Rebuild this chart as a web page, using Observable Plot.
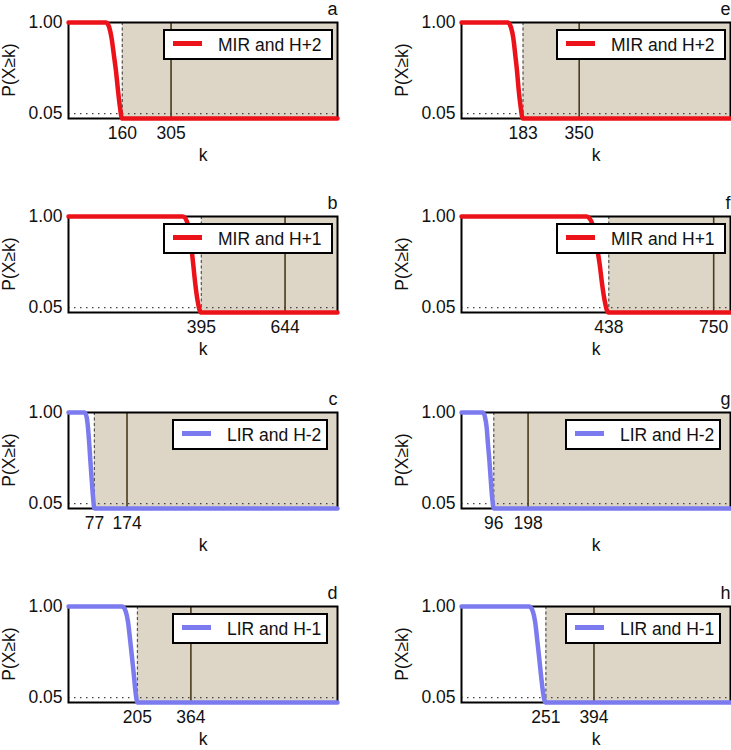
<!DOCTYPE html>
<html><head><meta charset="utf-8">
<script src="https://cdn.jsdelivr.net/npm/d3@7"></script>
<script src="https://cdn.jsdelivr.net/npm/@observablehq/plot@0.6"></script>
<style>
body{margin:0;background:#fff;}
#wrap{position:relative;width:731px;height:750px;background:#fff;font-family:"Liberation Sans",Arial,sans-serif;overflow:hidden;color:#111;}
.panel{position:absolute;}
.ylab{position:absolute;font-size:17.5px;transform:translate(-50%,-50%) rotate(-90deg);white-space:nowrap;}
.legend{position:absolute;height:31px;box-sizing:border-box;border:2px solid #000;background:#fff;font-size:17.5px;}
.legend .sw{position:absolute;left:8px;top:10px;width:29px;height:4.5px;}
.legend .tx{position:absolute;left:53px;top:3.5px;line-height:20px;white-space:nowrap;}
</style></head><body><div id="wrap"></div>
<script>
// ---- data ----
const panelLetters = ["a", "b", "c", "d", "e", "f", "g", "h"];
const seriesLabels = ["MIR and H+2", "MIR and H+1", "LIR and H-2", "LIR and H-1",
                      "MIR and H+2", "MIR and H+1", "LIR and H-2", "LIR and H-1"];
const thresholdK = [160, 395, 77, 205, 183, 438, 96, 251];
const markerK = [305, 644, 174, 364, 350, 750, 198, 394];
const xMax = 800;
const yTicks = [0.05, 1.00];
const curveK = [
  [0, 112, 121, 128, 135, 141, 147, 153, 159, 800],
  [0, 340, 352, 360, 366, 371, 377, 384, 394, 800],
  [0, 48, 54, 58, 62, 65, 69, 73, 77, 800],
  [0, 160, 170, 177, 183, 188, 194, 199, 205, 800],
  [0, 138, 147, 154, 160, 165, 170, 176, 182, 800],
  [0, 372, 386, 396, 404, 411, 418, 426, 436, 800],
  [0, 64, 70, 75, 79, 83, 87, 91, 96, 800],
  [0, 202, 212, 219, 225, 230, 236, 242, 249, 800]
];
const curveP = [
  [1, 1, 0.95, 0.84, 0.66, 0.5, 0.3, 0.12, 0, 0],
  [1, 1, 0.95, 0.84, 0.66, 0.5, 0.3, 0.12, 0, 0],
  [1, 1, 0.95, 0.84, 0.66, 0.5, 0.3, 0.12, 0, 0],
  [1, 1, 0.95, 0.84, 0.66, 0.5, 0.3, 0.12, 0, 0],
  [1, 1, 0.95, 0.84, 0.66, 0.5, 0.3, 0.12, 0, 0],
  [1, 1, 0.95, 0.84, 0.66, 0.5, 0.3, 0.12, 0, 0],
  [1, 1, 0.95, 0.84, 0.66, 0.5, 0.3, 0.12, 0, 0],
  [1, 1, 0.95, 0.84, 0.66, 0.5, 0.3, 0.12, 0, 0]
];

// ---- style / layout ----
const colLeft = [0, 393];
const rowTop = [22, 216, 412, 606];
const frameW = 269, frameH = 96, mLeft = 68, mTop = 20, mBottom = 44;
const colorOf = lab => lab.startsWith("MIR") ? "#ec1219" : "#7b7bef";
const shadeColor = "#ddd5c6";
const fontCSS = '"Liberation Sans", Arial, sans-serif';

const wrap = document.getElementById("wrap");

panelLetters.forEach((letter, i) => {
  const col = i < 4 ? 0 : 1;
  const row = i % 4;
  const left = colLeft[col];
  const top = rowTop[row];
  const mRight = col === 0 ? 4 : 1;
  const width = mLeft + frameW + mRight;
  const height = mTop + frameH + mBottom;
  const curve = curveK[i].map((k, j) => ({k, p: curveP[i][j]}));
  const color = colorOf(seriesLabels[i]);

  const chart = Plot.plot({
    width, height,
    marginLeft: mLeft, marginRight: mRight, marginTop: mTop, marginBottom: mBottom,
    style: {fontFamily: fontCSS, fontSize: "17.5px", background: "transparent", overflow: "visible", color: "#111"},
    x: {domain: [0, xMax], ticks: [thresholdK[i], markerK[i]], tickFormat: d => String(d), tickSize: 0, tickPadding: 8, label: null},
    y: {domain: [0, 1], ticks: yTicks, tickFormat: d => d.toFixed(2), tickSize: 0, tickPadding: 6, label: null},
    marks: [
      Plot.rect([{x1: thresholdK[i], x2: xMax}], {x1: "x1", x2: "x2", y1: 0, y2: 1, fill: shadeColor}),
      Plot.ruleY([0.05], {stroke: "#444", strokeWidth: 1.2, strokeDasharray: "1.5,4.5"}),
      Plot.ruleX([thresholdK[i]], {stroke: "#555", strokeWidth: 1.2, strokeDasharray: "3,2.5"}),
      Plot.ruleX([markerK[i]], {stroke: "#4a3a1c", strokeWidth: 1.6}),
      Plot.frame({stroke: "#000", strokeWidth: 2}),
      Plot.line(curve, {x: "k", y: "p", stroke: color, strokeWidth: 4.5, curve: "monotone-x"}),
      Plot.text([letter], {text: d => d, frameAnchor: "top-right", textAnchor: "end", lineAnchor: "bottom", dy: -8, fontSize: 18}),
      Plot.text(["k"], {text: d => d, frameAnchor: "bottom", lineAnchor: "middle", dy: 37, fontSize: 17.5})
    ]
  });
  chart.classList.add("panel");
  chart.style.left = left + "px";
  chart.style.top = (top - mTop) + "px";
  wrap.appendChild(chart);

  const yl = document.createElement("div");
  yl.className = "ylab";
  yl.textContent = "P(X\u2265k)";
  yl.style.left = (left + 9) + "px";
  yl.style.top = (top + frameH / 2) + "px";
  wrap.appendChild(yl);

  const isMIR = seriesLabels[i].startsWith("MIR");
  const lg = document.createElement("div");
  lg.className = "legend";
  lg.style.left = (left + mLeft + (isMIR ? 95 : 104)) + "px";
  lg.style.top = (top + 7) + "px";
  lg.style.width = (isMIR ? 170 : 156) + "px";
  const sw = document.createElement("div");
  sw.className = "sw";
  sw.style.background = color;
  const tx = document.createElement("div");
  tx.className = "tx";
  tx.textContent = seriesLabels[i];
  lg.appendChild(sw);
  lg.appendChild(tx);
  wrap.appendChild(lg);
});
</script></body></html>
